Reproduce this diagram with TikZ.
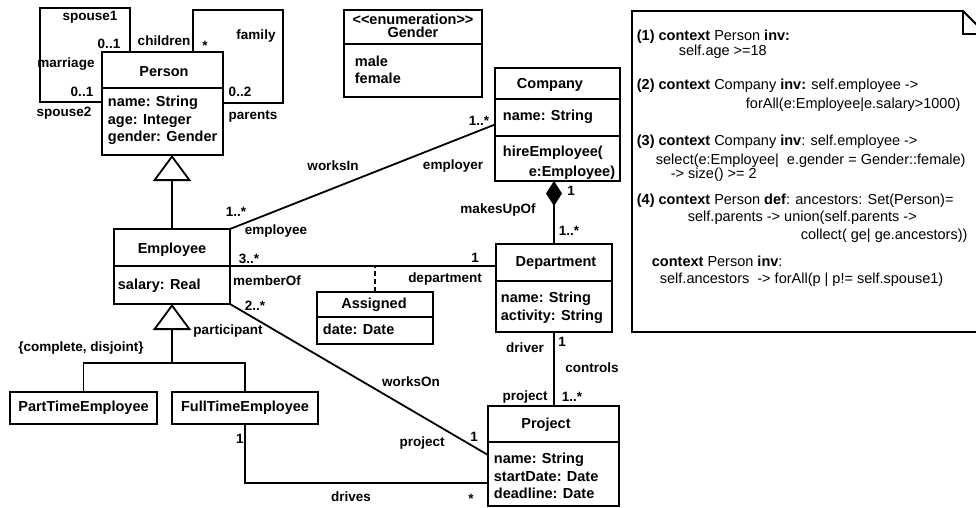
\documentclass[tikz,border=0pt]{standalone}
\usepackage{fontspec}
\setmainfont{Liberation Sans}
\usetikzlibrary{arrows.meta,shapes.geometric}
\begin{document}
\begin{tikzpicture}[x=1pt,y=-1pt, line width=1.8pt,
  box/.style={draw, line width=1.8pt, inner sep=0pt, outer sep=0pt, anchor=north west},
  ttl/.style={font=\fontsize{14.5}{17}\selectfont\bfseries, inner sep=0pt},
  attr/.style={font=\fontsize{14.5}{17.5}\selectfont\bfseries, inner sep=0pt, anchor=west, text height=10.5pt, text depth=3pt},
  lbl/.style={font=\fontsize{13.5}{16}\selectfont\bfseries, inner sep=0pt},
  notetxt/.style={font=\fontsize{14.5}{17}\selectfont, inner sep=0pt, anchor=west, text height=10.5pt, text depth=3pt},
  gen/.style={-{Triangle[open,length=26pt,width=38pt,line width=1.8pt]}},
  comp/.style={-{Diamond[length=25pt,width=16pt]}},
  sep/.style={line width=1.8pt}
]
\clip (0,0) rectangle (976,508);

% ---- class boxes
\node[box, minimum width=121pt, minimum height=103pt] (person) at (102,52) {};
\node[box, minimum width=116pt, minimum height=75pt] (employee) at (114,229) {};
\node[box, minimum width=125pt, minimum height=113pt] (company) at (495,68) {};
\node[box, minimum width=138pt, minimum height=87pt] (gender) at (344,10) {};
\node[box, minimum width=116pt, minimum height=88pt] (department) at (496,244) {};
\node[box, minimum width=116pt, minimum height=52pt] (assigned) at (317,292) {};
\node[box, minimum width=131pt, minimum height=100pt] (project) at (488,406) {};
\node[box, minimum width=147pt, minimum height=32pt] (parttime) at (10,392) {};
\node[box, minimum width=146pt, minimum height=32pt] (fulltime) at (172,392) {};

% ---- compartment separators
\draw[sep] (person.west |- 0,88) -- (person.east |- 0,88);
\draw[sep] (employee.west |- 0,266) -- (employee.east |- 0,266);
\draw[sep] (company.west |- 0,99) -- (company.east |- 0,99);
\draw[sep] (company.west |- 0,136) -- (company.east |- 0,136);
\draw[sep] (gender.west |- 0,44) -- (gender.east |- 0,44);
\draw[sep] (department.west |- 0,281) -- (department.east |- 0,281);
\draw[sep] (assigned.west |- 0,317) -- (assigned.east |- 0,317);
\draw[sep] (project.west |- 0,442) -- (project.east |- 0,442);

% ---- class texts
\node[ttl] (tperson) at (164,72) {Person};
\node[attr] (aperson1) at (107,103) {name: String};
\node[attr] (aperson2) at (107,121) {age: Integer};
\node[attr] (aperson3) at (107,138) {gender: Gender};

\node[ttl] (temployee) at (172,250) {Employee};
\node[attr] (aemployee) at (117,286) {salary: Real};

\node[ttl] (tcompany) at (550,85) {Company};
\node[attr] (acompany) at (502,117) {name: String};
\node[attr] (mcompany1) at (502,153) {hireEmployee(};
\node[attr] (mcompany2) at (528,173) {e:Employee)};

\node[ttl, align=center, font=\fontsize{14.5}{12.7}\selectfont\bfseries, anchor=north] (tgender) at (413,13.5) {<\kern0pt<enumeration>\kern0pt>\\Gender};
\node[attr] (agender1) at (354,63) {male};
\node[attr] (agender2) at (354,80) {female};

\node[ttl] (tdepartment) at (556,263) {Department};
\node[attr] (adept1) at (500,299) {name: String};
\node[attr] (adept2) at (500,317) {activity: String};

\node[ttl] (tassigned) at (374,305) {Assigned};
\node[attr] (aassigned) at (322,331) {date: Date};

\node[ttl] (tproject) at (546,425) {Project};
\node[attr] (aproj1) at (493,460) {name: String};
\node[attr] (aproj2) at (493,478) {startDate: Date};
\node[attr] (aproj3) at (493,495) {deadline: Date};

\node[ttl] (tparttime) at (83.5,408) {PartTimeEmployee};
\node[ttl] (tfulltime) at (245,408) {FullTimeEmployee};

% ---- connectors
\draw (person.north -| 130,0) -- (130,8) -- (40,8) -- (40,102) -- (person.west |- 0,102);
\draw (person.north -| 193,0) -- (193,10) -- (283,10) -- (283,103) -- (person.east |- 0,103);
\draw[gen] (employee.north) -- (employee.north |- person.south);
\draw (employee.north east) -- (company.west);
\draw (employee.east |- 0,266) -- (department.west |- 0,266);
\draw[dash pattern=on 5pt off 3pt] (assigned.north) -- (assigned.north |- 0,266);
\draw (employee.south east) -- (project.west |- 0,455);
\draw (fulltime.south) |- (project.west |- 0,483);
\draw (department.south) -- (department.south |- project.north);
\draw[comp] (department.north) -- (department.north |- company.south);
\draw (parttime.north) -- (parttime.north |- 0,363) -- (fulltime.north |- 0,363) -- (fulltime.north);
\draw[gen] (employee.south |- 0,363) -- (employee.south);

% ---- association labels
\node[lbl] (l1) at (90,17.5) {spouse1};
\node[lbl] (l2) at (109,44) {0..1};
\node[lbl] (l3) at (66,64) {marriage};
\node[lbl] (l4) at (82,92) {0..1};
\node[lbl] (l5) at (64,113) {spouse2};
\node[lbl] (l6) at (164,41) {children};
\node[lbl] (l7) at (205,46) {*};
\node[lbl] (l8) at (256,36) {family};
\node[lbl] (l9) at (240,92) {0..2};
\node[lbl] (l10) at (253,116) {parents};
\node[lbl] (l11) at (236,212) {1..*};
\node[lbl] (l12) at (276,231) {employee};
\node[lbl] (l13) at (249,259) {3..*};
\node[lbl] (l14) at (267,281) {memberOf};
\node[lbl] (l15) at (255,306) {2..*};
\node[lbl] (l16) at (228,331) {participant};
\node[lbl] (l17) at (81,348) {\{complete, disjoint\}};
\node[lbl] (l18) at (479,121) {1..*};
\node[lbl] (l19) at (333,166) {worksIn};
\node[lbl] (l20) at (453,166) {employer};
\node[lbl] (l21) at (571,191) {1};
\node[lbl] (l22) at (498,210) {makesUpOf};
\node[lbl] (l23) at (569,231) {1..*};
\node[lbl] (l24) at (475,258) {1};
\node[lbl] (l25) at (445,279) {department};
\node[lbl] (l26) at (525,348) {driver};
\node[lbl] (l27) at (562,342) {1};
\node[lbl] (l28) at (592,368) {controls};
\node[lbl] (l29) at (411,382) {worksOn};
\node[lbl] (l30) at (525,397) {project};
\node[lbl] (l31) at (572,397) {1..*};
\node[lbl] (l32) at (474,437) {1};
\node[lbl] (l33) at (422,443) {project};
\node[lbl] (l34) at (240,439) {1};
\node[lbl] (l35) at (351,497) {drives};
\node[lbl] (l36) at (471,499) {*};

% ---- OCL note
\draw (632,11) -- (963,11) -- (986,34) -- (986,332) -- (632,332) -- cycle;
\draw (963,11) -- (963,34) -- (986,34);
\node[notetxt] (n1) at (636,37) {\textbf{(1) context} Person \textbf{inv:}};
\node[notetxt] (n2) at (678,52) {self.age >=18};
\node[notetxt] (n3) at (636,86) {\textbf{(2) context} Company \textbf{inv:} self.employee ->};
\node[notetxt] (n4) at (745,105) {forAll(e:Employee|e.salary>1000)};
\node[notetxt] (n5) at (636,142) {\textbf{(3) context} Company \textbf{inv}: self.employee ->};
\node[notetxt] (n6) at (655,161) {select(e:Employee|\ \ e.gender = Gender::female)};
\node[notetxt] (n7) at (670,175) {-> size() >= 2};
\node[notetxt] (n8) at (636,201) {\textbf{(4) context} Person \textbf{def}: ancestors: Set(Person)=};
\node[notetxt] (n9) at (687,218) {self.parents -> union(self.parents ->};
\node[notetxt] (n10) at (800,236) {collect( ge| ge.ancestors))};
\node[notetxt] (n11) at (651,263) {\textbf{context} Person \textbf{inv}:};
\node[notetxt] (n12) at (659,280) {self.ancestors\ \ -> forAll(p | p!= self.spouse1)};
\end{tikzpicture}
\end{document}
